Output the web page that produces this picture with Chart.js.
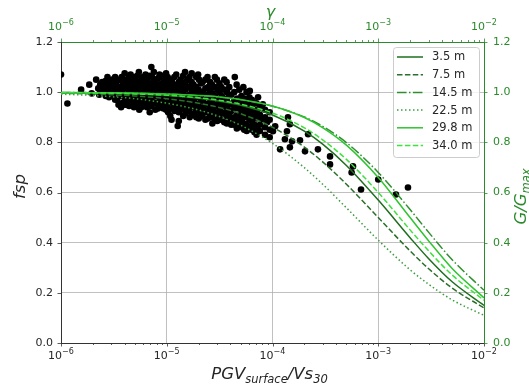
<!DOCTYPE html>
<html><head><meta charset="utf-8">
<script src="https://cdn.jsdelivr.net/npm/chart.js@4.4.1/dist/chart.umd.min.js"></script>
<style>html,body{margin:0;padding:0;background:#fff;}canvas{display:block;}</style>
</head><body>
<canvas id="c" width="529" height="389"></canvas>
<script>
// ---------- data ----------
const yTickValues = [0.0,0.2,0.4,0.6,0.8,1.0,1.2];
const depthLabels = ['3.5 m','7.5 m','14.5 m','22.5 m','29.8 m','34.0 m'];
const curveX = [1e-6,2e-6,3e-6,5e-6,1e-5,2e-5,3e-5,5e-5,1e-4,2e-4,3e-4,5e-4,1e-3,2e-3,3e-3,5e-3,1e-2];
const g35  = [0.998,0.997,0.995,0.993,0.987,0.976,0.966,0.948,0.909,0.845,0.792,0.708,0.570,0.420,0.336,0.244,0.150];
const g75  = [0.996,0.993,0.990,0.985,0.974,0.956,0.941,0.914,0.860,0.781,0.721,0.633,0.500,0.367,0.296,0.219,0.140];
const g145 = [0.999,0.998,0.997,0.996,0.993,0.986,0.981,0.970,0.944,0.901,0.863,0.799,0.680,0.532,0.441,0.332,0.210];
const g225 = [0.992,0.987,0.982,0.974,0.956,0.929,0.906,0.868,0.796,0.699,0.632,0.539,0.410,0.292,0.234,0.172,0.110];
const g298 = [0.999,0.998,0.998,0.997,0.993,0.987,0.982,0.971,0.945,0.899,0.858,0.789,0.660,0.500,0.407,0.297,0.180];
const g340 = [0.998,0.997,0.996,0.993,0.988,0.978,0.969,0.952,0.917,0.858,0.809,0.732,0.600,0.451,0.367,0.271,0.170];
// observed fsp points: [PGV_surface/Vs30, fsp]
const fspObs = [
[1.00e-6,1.07],[1.15e-6,0.955],[1.55e-6,1.01],[1.85e-6,1.03],[1.95e-6,0.995],
[2.15e-6,1.05],[2.25e-6,1.015],[2.30e-6,0.99],[2.45e-6,1.04],[2.55e-6,1.02],[2.60e-6,0.998],
[2.75e-6,1.06],[2.80e-6,1.03],[2.90e-6,1.005],[2.85e-6,0.98],[3.05e-6,1.05],[3.15e-6,1.02],[3.10e-6,0.985],
[3.35e-6,1.04],[3.45e-6,1.01],[3.40e-6,0.97],[3.50e-6,0.95],[3.75e-6,1.06],[3.85e-6,1.03],[3.80e-6,1.0],[3.90e-6,0.96],[3.70e-6,0.94],
[4.15e-6,1.05],[4.25e-6,1.02],[4.20e-6,0.99],[4.30e-6,0.97],[4.10e-6,0.95],
[4.55e-6,1.07],[4.65e-6,1.04],[4.60e-6,1.01],[4.70e-6,0.98],[4.50e-6,0.955],
[4.95e-6,1.05],[5.05e-6,1.03],[5.00e-6,1.0],[5.10e-6,0.97],[4.90e-6,0.94],
[5.45e-6,1.08],[5.55e-6,1.04],[5.50e-6,1.02],[5.60e-6,0.99],[5.40e-6,0.96],[5.50e-6,0.93],
[5.95e-6,1.06],[6.05e-6,1.03],[6.00e-6,1.0],[6.10e-6,0.975],[5.90e-6,0.95],
[6.55e-6,1.05],[6.65e-6,1.02],[6.60e-6,0.99],[6.70e-6,0.965],[6.50e-6,0.94],
[7.15e-6,1.10],[7.25e-6,1.06],[7.20e-6,1.03],[7.30e-6,1.0],[7.10e-6,0.97],[7.20e-6,0.945],
[7.85e-6,1.04],[7.95e-6,1.01],[7.90e-6,0.985],[8.00e-6,0.955],[7.80e-6,0.93],
[8.55e-6,1.07],[8.65e-6,1.03],[8.60e-6,1.0],[8.70e-6,0.97],[8.50e-6,0.94],
[9.35e-6,1.05],[9.45e-6,1.02],[9.40e-6,0.99],[9.50e-6,0.96],[9.30e-6,0.935],
[1.02e-5,1.06],[1.04e-5,1.03],[1.03e-5,1.0],[1.05e-5,0.975],[1.01e-5,0.95],[1.03e-5,0.92],
[1.12e-5,1.04],[1.14e-5,1.01],[1.13e-5,0.98],[1.15e-5,0.955],[1.11e-5,0.89],
[1.23e-5,1.07],[1.25e-5,1.03],[1.24e-5,1.0],[1.26e-5,0.97],[1.22e-5,0.94],[1.27e-5,0.865],
[1.35e-5,1.05],[1.37e-5,1.02],[1.36e-5,0.99],[1.38e-5,0.96],[1.34e-5,0.93],
[1.49e-5,1.08],[1.51e-5,1.04],[1.50e-5,1.01],[1.52e-5,0.975],[1.48e-5,0.945],[1.50e-5,0.915],
[1.64e-5,1.06],[1.66e-5,1.02],[1.65e-5,0.99],[1.67e-5,0.96],[1.63e-5,0.93],[1.65e-5,0.90],
[1.79e-5,1.03],[1.81e-5,1.0],[1.80e-5,0.97],[1.82e-5,0.94],[1.78e-5,0.91],
[1.98e-5,1.07],[2.02e-5,1.05],[2.00e-5,1.01],[2.03e-5,0.98],[1.97e-5,0.95],[2.00e-5,0.92],[2.01e-5,0.895],
[2.18e-5,1.04],[2.22e-5,1.0],[2.20e-5,0.965],[2.23e-5,0.935],[2.17e-5,0.905],
[2.43e-5,1.06],[2.47e-5,1.02],[2.45e-5,0.99],[2.48e-5,0.955],[2.42e-5,0.925],[2.45e-5,0.895],
[2.68e-5,1.03],[2.72e-5,0.995],[2.70e-5,0.96],[2.73e-5,0.93],[2.67e-5,0.90],[2.70e-5,0.875],
[2.98e-5,1.05],[3.02e-5,1.01],[3.00e-5,0.975],[3.03e-5,0.945],[2.97e-5,0.915],[3.00e-5,0.885],
[3.28e-5,1.02],[3.32e-5,0.985],[3.30e-5,0.95],[3.33e-5,0.92],[3.27e-5,0.89],
[3.68e-5,1.04],[3.72e-5,1.0],[3.70e-5,0.965],[3.73e-5,0.935],[3.67e-5,0.905],[3.70e-5,0.875],
[4.08e-5,0.99],[4.12e-5,0.955],[4.10e-5,0.925],[4.13e-5,0.895],[4.07e-5,0.87],[4.40e-5,1.06],
[4.58e-5,1.03],[4.62e-5,0.975],[4.60e-5,0.945],[4.63e-5,0.91],[4.57e-5,0.88],[4.60e-5,0.855],
[5.08e-5,0.985],[5.12e-5,0.955],[5.10e-5,0.92],[5.13e-5,0.89],[5.07e-5,0.86],[5.30e-5,1.02],
[5.68e-5,1.0],[5.72e-5,0.96],[5.70e-5,0.93],[5.73e-5,0.90],[5.67e-5,0.87],[5.70e-5,0.845],
[6.38e-5,0.97],[6.42e-5,0.94],[6.40e-5,0.91],[6.43e-5,0.88],[6.37e-5,0.85],[6.10e-5,1.005],
[7.08e-5,0.955],[7.12e-5,0.92],[7.10e-5,0.895],[7.13e-5,0.86],[7.07e-5,0.83],[7.30e-5,0.98],
[2.35e-6,1.03],[2.35e-6,1.0],[2.65e-6,1.045],[2.65e-6,1.01],[2.65e-6,0.985],
[2.95e-6,1.04],[2.95e-6,1.015],[2.95e-6,0.99],[3.25e-6,1.06],[3.25e-6,1.03],[3.25e-6,1.0],[3.25e-6,0.97],
[3.6e-6,1.05],[3.6e-6,1.02],[3.6e-6,0.985],[3.6e-6,0.955],
[4.0e-6,1.075],[4.0e-6,1.045],[4.0e-6,1.015],[4.0e-6,0.98],[4.0e-6,0.95],
[4.4e-6,1.06],[4.4e-6,1.035],[4.4e-6,1.005],[4.4e-6,0.975],[4.4e-6,0.945],
[4.8e-6,1.06],[4.8e-6,1.02],[4.8e-6,0.99],[4.8e-6,0.96],
[5.25e-6,1.065],[5.25e-6,1.04],[5.25e-6,1.01],[5.25e-6,0.98],[5.25e-6,0.95],
[5.75e-6,1.05],[5.75e-6,1.025],[5.75e-6,0.995],[5.75e-6,0.965],[5.75e-6,0.94],
[6.3e-6,1.07],[6.3e-6,1.04],[6.3e-6,1.01],[6.3e-6,0.985],[6.3e-6,0.955],
[6.9e-6,1.065],[6.9e-6,1.035],[6.9e-6,1.005],[6.9e-6,0.975],[6.9e-6,0.95],[6.9e-6,0.92],
[7.55e-6,1.08],[7.55e-6,1.045],[7.55e-6,1.015],[7.55e-6,0.99],[7.55e-6,0.96],
[8.25e-6,1.055],[8.25e-6,1.02],[8.25e-6,0.99],[8.25e-6,0.96],[8.25e-6,0.935],
[9.0e-6,1.065],[9.0e-6,1.035],[9.0e-6,1.01],[9.0e-6,0.98],[9.0e-6,0.95],
[9.85e-6,1.075],[9.85e-6,1.04],[9.85e-6,1.01],[9.85e-6,0.985],[9.85e-6,0.955],[9.85e-6,0.93],
[1.08e-5,1.05],[1.08e-5,1.02],[1.08e-5,0.99],[1.08e-5,0.965],[1.08e-5,0.935],[1.08e-5,0.905],
[1.18e-5,1.06],[1.18e-5,1.025],[1.18e-5,0.99],[1.18e-5,0.96],[1.18e-5,0.925],
[1.30e-5,1.04],[1.30e-5,1.01],[1.30e-5,0.98],[1.30e-5,0.95],[1.30e-5,0.92],[1.30e-5,0.885],
[1.43e-5,1.065],[1.43e-5,1.03],[1.43e-5,0.995],[1.43e-5,0.965],[1.43e-5,0.935],[1.43e-5,0.905],
[1.57e-5,1.05],[1.57e-5,1.02],[1.57e-5,0.985],[1.57e-5,0.95],[1.57e-5,0.925],
[1.72e-5,1.075],[1.72e-5,1.04],[1.72e-5,1.005],[1.72e-5,0.975],[1.72e-5,0.945],[1.72e-5,0.915],
[1.90e-5,1.06],[1.90e-5,1.02],[1.90e-5,0.99],[1.90e-5,0.955],[1.90e-5,0.925],[1.90e-5,0.90],
[2.10e-5,1.035],[2.10e-5,1.0],[2.10e-5,0.97],[2.10e-5,0.94],[2.10e-5,0.91],
[2.32e-5,1.05],[2.32e-5,1.015],[2.32e-5,0.98],[2.32e-5,0.95],[2.32e-5,0.92],[2.32e-5,0.89],
[2.57e-5,1.04],[2.57e-5,1.005],[2.57e-5,0.975],[2.57e-5,0.94],[2.57e-5,0.91],
[2.85e-5,1.06],[2.85e-5,1.02],[2.85e-5,0.985],[2.85e-5,0.95],[2.85e-5,0.92],[2.85e-5,0.89],
[3.15e-5,1.035],[3.15e-5,1.0],[3.15e-5,0.965],[3.15e-5,0.93],[3.15e-5,0.90],
[3.5e-5,1.05],[3.5e-5,1.01],[3.5e-5,0.975],[3.5e-5,0.945],[3.5e-5,0.915],[3.5e-5,0.88],
[3.9e-5,1.02],[3.9e-5,0.985],[3.9e-5,0.95],[3.9e-5,0.915],[3.9e-5,0.885],
[4.35e-5,1.0],[4.35e-5,0.965],[4.35e-5,0.935],[4.35e-5,0.90],[4.35e-5,0.87],
[4.85e-5,1.01],[4.85e-5,0.97],[4.85e-5,0.935],[4.85e-5,0.90],[4.85e-5,0.87],
[5.4e-5,0.975],[5.4e-5,0.94],[5.4e-5,0.91],[5.4e-5,0.875],[5.4e-5,0.85],
[6.05e-5,0.98],[6.05e-5,0.95],[6.05e-5,0.92],[6.05e-5,0.89],[6.05e-5,0.86],
[6.75e-5,0.96],[6.75e-5,0.93],[6.75e-5,0.90],[6.75e-5,0.87],[6.75e-5,0.84],
[7.6e-5,0.94],[7.6e-5,0.91],[7.6e-5,0.87],[7.6e-5,0.845],
[8.5e-5,0.93],[8.5e-5,0.90],[8.5e-5,0.86],[8.5e-5,0.83],
[9.4e-5,0.92],[9.4e-5,0.89],[9.4e-5,0.85],[9.4e-5,0.82],
[7.9e-5,0.892],[8.1e-5,0.952],[8.9e-5,0.88],[1.01e-4,0.844],[1.06e-4,0.864],[1.18e-4,0.772],
[1.31e-4,0.812],[1.37e-4,0.844],[1.40e-4,0.90],[1.46e-4,0.872],[1.46e-4,0.78],[1.53e-4,0.804],
[1.82e-4,0.808],[2.03e-4,0.764],[2.17e-4,0.832],[2.69e-4,0.772],[3.50e-4,0.744],[3.50e-4,0.712],
[5.6e-4,0.68],[5.77e-4,0.704],[6.87e-4,0.612],[1.0e-3,0.652],[1.47e-3,0.592],[1.91e-3,0.62]
];
// ---------- styles ----------
const curveSets = [g35,g75,g145,g225,g298,g340];
const curveColors = ['#1f6e1f','#2a6f2a','#2f8f2f','#3d9d3d','#2fc42f','#3fe03f'];
const curveDash = [[],[5.5,2.4],[9.6,2.4,1.5,2.4],[1.5,2.5],[],[5.5,2.4]];
const GREEN = '#2b8a2b';
const TXT = '#262626';
const FONT = '"DejaVu Sans", sans-serif';

function isPow10(v){const l=Math.log10(v);return Math.abs(l-Math.round(l))<1e-6;}
function logTicks(scale){
  const t=[];
  for(let e=-6;e<=-2;e++){for(let m=1;m<=9;m++){const v=parseFloat((m*Math.pow(10,e)).toPrecision(6));if(v>1.00001e-2)break;t.push({value:v,major:m===1});}}
  scale.ticks=t;
}

const datasets=[{
  label:'obs',data:fspObs.map(p=>({x:p[0],y:p[1]})),showLine:false,
  pointRadius:3.3,pointBackgroundColor:'#000',pointBorderWidth:0,backgroundColor:'#000',borderColor:'#000',
  order:10,clip:0,xAxisID:'x',yAxisID:'y'
}];
curveSets.forEach((vals,i)=>{
  datasets.push({label:depthLabels[i],data:curveX.map((x,j)=>({x:x,y:vals[j]})),showLine:true,pointRadius:0,
    borderColor:curveColors[i],backgroundColor:curveColors[i],borderWidth:1.5,borderDash:curveDash[i],fill:false,
    cubicInterpolationMode:'monotone',order:6-i,xAxisID:'x2',yAxisID:'y2'});
});

function drawMixed(ctx,parts,cx,cy,angle,color){
  ctx.save();ctx.translate(cx,cy);ctx.rotate(angle);ctx.fillStyle=color;ctx.textAlign='left';ctx.textBaseline='alphabetic';
  let w=0;parts.forEach(p=>{ctx.font='italic '+p.s+'px '+FONT;p.w=ctx.measureText(p.t).width;w+=p.w;});
  let x=-w/2;parts.forEach(p=>{ctx.font='italic '+p.s+'px '+FONT;ctx.fillText(p.t,x,p.dy);x+=p.w;});
  ctx.restore();
}
function drawPow(ctx,px,baseY,v,color){
  const e=Math.round(Math.log10(v));const sup='\u2212'+Math.abs(e);
  ctx.font='11px '+FONT;const w1=ctx.measureText('10').width;
  ctx.font='8px '+FONT;const w2=ctx.measureText(sup).width;
  const x0=px-(w1+w2)/2;ctx.fillStyle=color;ctx.textAlign='left';ctx.textBaseline='alphabetic';
  ctx.font='11px '+FONT;ctx.fillText('10',x0,baseY);
  ctx.font='8px '+FONT;ctx.fillText(sup,x0+w1,baseY-5);
}

const decor={id:'decor',afterDraw(chart){
  const ctx=chart.ctx,a=chart.chartArea,sx=chart.scales.x,sx2=chart.scales.x2,sy=chart.scales.y,sy2=chart.scales.y2;
  ctx.save();ctx.lineWidth=0.8;
  const ln=(x1,y1,x2,y2)=>{ctx.beginPath();ctx.moveTo(x1,y1);ctx.lineTo(x2,y2);ctx.stroke();};
  ctx.strokeStyle='#333';
  sx.ticks.forEach(t=>{const p=Math.round(sx.getPixelForValue(t.value))+0.5;ln(p,a.bottom,p,a.bottom+(isPow10(t.value)?3.5:2));});
  sy.ticks.forEach(t=>{const p=Math.round(sy.getPixelForValue(t.value))+0.5;ln(a.left,p,a.left-3.5,p);});
  ctx.strokeStyle=GREEN;
  sx2.ticks.forEach(t=>{const p=Math.round(sx2.getPixelForValue(t.value))+0.5;ln(p,a.top,p,a.top-(isPow10(t.value)?3.5:2));});
  sy2.ticks.forEach(t=>{const p=Math.round(sy2.getPixelForValue(t.value))+0.5;ln(a.right,p,a.right+3.5,p);});
  sx.ticks.forEach(t=>{if(isPow10(t.value))drawPow(ctx,sx.getPixelForValue(t.value),a.bottom+16,t.value,TXT);});
  sx2.ticks.forEach(t=>{if(isPow10(t.value))drawPow(ctx,sx2.getPixelForValue(t.value),a.top-12,t.value,GREEN);});
  const cx=(a.left+a.right)/2,cy=(a.top+a.bottom)/2;
  drawMixed(ctx,[{t:'PGV',s:16.5,dy:0},{t:'surface',s:11.5,dy:3.5},{t:'/Vs',s:16.5,dy:0},{t:'30',s:11.5,dy:3.5}],cx-3,a.bottom+36,0,TXT);
  drawMixed(ctx,[{t:'\u03B3',s:16,dy:0}],cx-2,17,0,GREEN);
  drawMixed(ctx,[{t:'fsp',s:16.5,dy:0}],25,cy-6,-Math.PI/2,TXT);
  drawMixed(ctx,[{t:'G/G',s:16.5,dy:0},{t:'max',s:11.5,dy:3.5}],526,cy+4,-Math.PI/2,GREEN);
  const bx=a.right-5-86,by=a.top+5,bw=86,bh=110;
  ctx.beginPath();
  if(ctx.roundRect)ctx.roundRect(bx+0.5,by+0.5,bw,bh,3);else ctx.rect(bx+0.5,by+0.5,bw,bh);
  ctx.fillStyle='rgba(255,255,255,0.8)';ctx.fill();ctx.strokeStyle='#cccccc';ctx.lineWidth=1;ctx.stroke();
  depthLabels.forEach((lab,i)=>{
    const ds=chart.data.datasets[i+1];const y=by+10+i*17.7;
    ctx.save();ctx.strokeStyle=ds.borderColor;ctx.lineWidth=1.5;ctx.setLineDash(ds.borderDash);
    ctx.beginPath();ctx.moveTo(bx+4,y);ctx.lineTo(bx+30,y);ctx.stroke();ctx.restore();
    ctx.fillStyle=TXT;ctx.font='11.5px '+FONT;ctx.textAlign='left';ctx.textBaseline='middle';ctx.fillText(lab,bx+39,y+0.5);
  });
  ctx.restore();
}};

const yTickCb=v=>yTickValues.some(t=>Math.abs(t-v)<1e-6)?v.toFixed(1):'';
new Chart(document.getElementById('c'),{
  type:'scatter',
  data:{datasets:datasets},
  options:{
    responsive:false,animation:false,devicePixelRatio:1,
    layout:{padding:0},
    plugins:{legend:{display:false},tooltip:{enabled:false}},
    scales:{
      x:{type:'logarithmic',position:'bottom',min:1e-6,max:1e-2,afterBuildTicks:logTicks,
        ticks:{display:false,autoSkip:false},
        grid:{color:c=>(c.tick&&isPow10(c.tick.value)&&c.tick.value>1.5e-6&&c.tick.value<0.9e-2)?'#b0b0b0':'rgba(0,0,0,0)',lineWidth:0.8,drawTicks:false},
        border:{color:'#333',width:1},afterFit:s=>{s.height=46;}},
      x2:{type:'logarithmic',position:'top',min:1e-6,max:1e-2,afterBuildTicks:logTicks,
        ticks:{display:false,autoSkip:false},grid:{display:false,drawTicks:false},
        border:{color:GREEN,width:1},afterFit:s=>{s.height=42;}},
      y:{type:'linear',position:'left',min:0,max:1.2,
        ticks:{stepSize:0.2,callback:yTickCb,color:TXT,font:{family:FONT,size:11},padding:8},
        grid:{color:c=>(c.tick&&c.tick.value>0.01&&c.tick.value<1.19)?'#b0b0b0':'rgba(0,0,0,0)',lineWidth:0.8,drawTicks:false},
        border:{color:'#333',width:1},afterFit:s=>{s.width=61;}},
      y2:{type:'linear',position:'right',min:0,max:1.2,
        ticks:{stepSize:0.2,callback:yTickCb,color:GREEN,font:{family:FONT,size:11},padding:9},
        grid:{display:false,drawTicks:false},
        border:{color:GREEN,width:1},afterFit:s=>{s.width=45;}}
    }
  },
  plugins:[decor]
});
</script>
</body></html>
